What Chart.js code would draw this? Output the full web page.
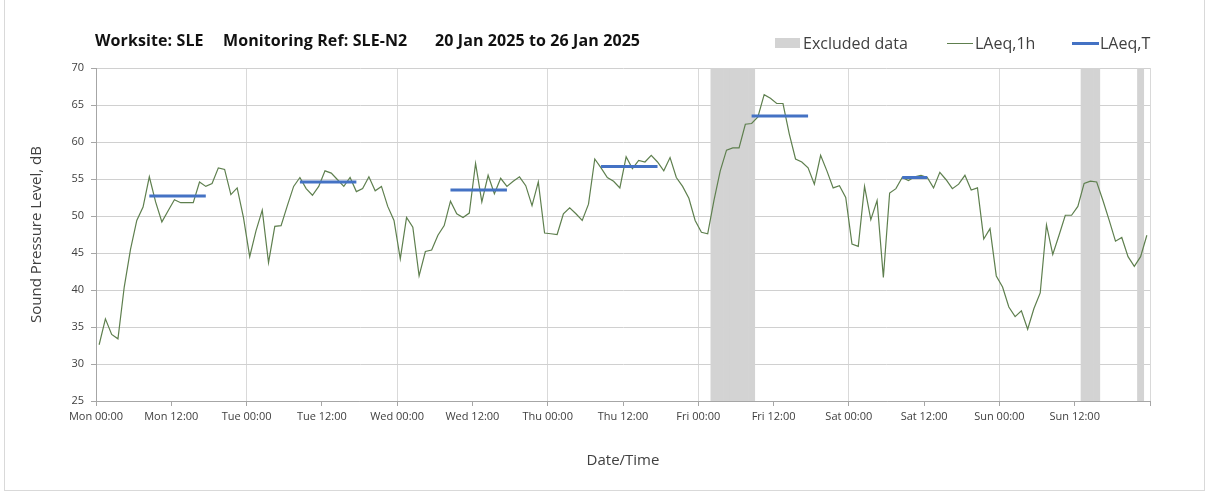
<!DOCTYPE html>
<html lang="en">
<head>
<meta charset="UTF-8">
<title>Worksite SLE - SLE-N2 noise monitoring</title>
<script src="https://cdn.jsdelivr.net/npm/chart.js"></script>
<style>
    body { margin: 0; background: #fff; font-family: "Open Sans", Lato, sans-serif; }
    #wrap { position: relative; width: 1208px; height: 494px; overflow: hidden; }
    #frame { position: absolute; left: 4px; top: -1px; width: 1199px; height: 490px; border: 1px solid #d9d9d9; }
    #chart { position: absolute; left: 0; top: 0; }
    .ttl { position: absolute; top: 29px; font-size: 16px; font-weight: bold; color: #111; white-space: nowrap; letter-spacing: 0.1px; }
    .leg { position: absolute; top: 32px; font-size: 16px; color: #404040; white-space: nowrap; }
    .swatch { position: absolute; }
</style>
</head>
<body>
<div id="wrap">
    <div id="frame"></div>
    <canvas id="chart" width="1208" height="494"></canvas>

    <!-- title, split in three parts like the original -->
    <div class="ttl" style="left:95px">Worksite: SLE</div>
    <div class="ttl" style="left:223px">Monitoring Ref: SLE-N2</div>
    <div class="ttl" style="left:435px">20 Jan 2025 to 26 Jan 2025</div>

    <!-- legend -->
    <div class="swatch" style="left:775px;top:38px;width:25px;height:10px;background:#d3d3d3"></div>
    <div class="leg" style="left:803px">Excluded data</div>
    <div class="swatch" style="left:947px;top:43px;width:26px;height:1px;background:#5e7f4e"></div>
    <div class="leg" style="left:975px">LAeq,1h</div>
    <div class="swatch" style="left:1072px;top:42px;width:27px;height:3px;background:#4472c4"></div>
    <div class="leg" style="left:1100px">LAeq,T</div>
</div>

<script>
// hourly LAeq,1h, Mon 20 Jan 00:00 .. Sun 26 Jan 23:00
const laeq1h = [
    32.6, 36.1, 34.0, 33.4, 40.4, 45.5, 49.4, 51.2, 55.3, 51.9, 49.2, 50.7,
    52.2, 51.8, 51.8, 51.8, 54.6, 54.0, 54.4, 56.5, 56.3, 52.9, 53.8, 49.8,
    44.5, 48.0, 50.8, 43.7, 48.6, 48.7, 51.4, 54.0, 55.2, 53.7, 52.8, 54.0,
    56.1, 55.8, 54.9, 54.0, 55.2, 53.3, 53.7, 55.3, 53.4, 54.0, 51.3, 49.4,
    44.2, 49.8, 48.5, 41.9, 45.2, 45.4, 47.4, 48.7, 52.0, 50.3, 49.8, 50.4,
    57.1, 51.9, 55.5, 53.0, 55.1, 54.0, 54.7, 55.3, 54.1, 51.4, 54.6, 47.7,
    47.6, 47.5, 50.3, 51.1, 50.3, 49.4, 51.6, 57.7, 56.5, 55.2, 54.7, 53.8,
    58.0, 56.4, 57.5, 57.3, 58.2, 57.3, 56.1, 57.9, 55.2, 54.0, 52.4, 49.4,
    47.8, 47.6, 52.1, 56.1, 58.9, 59.2, 59.2, 62.4, 62.5, 63.4, 66.4, 65.9,
    65.2, 65.2, 61.1, 57.7, 57.3, 56.5, 54.3, 58.2, 56.1, 53.8, 54.1, 52.5,
    46.2, 45.9, 54.0, 49.5, 52.1, 41.7, 53.1, 53.7, 55.2, 54.8, 55.3, 55.5,
    55.2, 53.8, 55.9, 54.9, 53.7, 54.3, 55.5, 53.5, 53.8, 46.9, 48.3, 41.9,
    40.4, 37.7, 36.4, 37.2, 34.7, 37.5, 39.6, 48.8, 44.8, 47.4, 50.1, 50.1,
    51.3, 54.4, 54.7, 54.6, 52.1, 49.4, 46.6, 47.1, 44.5, 43.2, 44.5, 47.4
];

// LAeq,T periods (hour index from Mon 00:00)
const periodStart = [8, 32, 56, 80, 104, 128];
const periodEnd = [17, 41, 65, 89, 113, 132];
const periodLevel = [52.7, 54.6, 53.5, 56.7, 63.5, 55.2];

// excluded hours (hour index from Mon 00:00)
const excludedHours = [98, 99, 100, 101, 102, 103, 104, 157, 158, 159, 166];

const dayNames = ['Mon', 'Tue', 'Wed', 'Thu', 'Fri', 'Sat', 'Sun'];
const yTicks = [25, 30, 35, 40, 45, 50, 55, 60, 65, 70];

// each hourly value sits in the middle of its hour
const linePoints = laeq1h.map((v, i) => ({ x: i + 0.5, y: v }));

const periodPoints = [];
periodStart.forEach((s, i) => {
    periodPoints.push({ x: s + 0.5, y: periodLevel[i] });
    periodPoints.push({ x: periodEnd[i] + 0.5, y: periodLevel[i] });
    periodPoints.push({ x: periodEnd[i] + 1, y: null });
});

const excludedPoints = excludedHours.map(h => ({ x: h + 0.5, y: yTicks[yTicks.length - 1] }));

const txt = '#404040';
const font = 'Open Sans';

new Chart(document.getElementById('chart'), {
    type: 'line',
    data: {
        datasets: [
            {
                type: 'bar',
                label: 'Excluded data',
                data: excludedPoints,
                backgroundColor: '#d3d3d3',
                borderWidth: 0,
                barPercentage: 1,
                categoryPercentage: 1,
                order: 3
            },
            {
                label: 'LAeq,1h',
                data: linePoints,
                borderColor: '#5e7f4e',
                borderWidth: 1.2,
                pointRadius: 0,
                tension: 0,
                order: 2
            },
            {
                label: 'LAeq,T',
                data: periodPoints,
                borderColor: '#4472c4',
                borderWidth: 3,
                pointRadius: 0,
                spanGaps: false,
                order: 1
            }
        ]
    },
    options: {
        responsive: false,
        animation: false,
        devicePixelRatio: 1,
        layout: { padding: { left: 0, top: 68, right: 58, bottom: 0 } },
        plugins: {
            legend: { display: false },
            tooltip: { enabled: false }
        },
        scales: {
            x: {
                type: 'linear',
                min: 0,
                max: 168,
                offset: false,
                afterFit: (scale) => { scale.height = 93; },
                grid: {
                    offset: false,
                    color: (ctx) => (ctx.tick && ctx.tick.value % 24 === 0) ? '#d9d9d9' : 'rgba(0,0,0,0)',
                    tickColor: '#a6a6a6',
                    tickLength: 5
                },
                border: { color: '#a6a6a6' },
                ticks: {
                    stepSize: 12,
                    autoSkip: false,
                    maxRotation: 0,
                    padding: 4,
                    color: txt,
                    font: { family: font, size: 11 },
                    callback: (v) => v >= 168 ? '' : dayNames[Math.floor(v / 24)] + (v % 24 === 0 ? ' 00:00' : ' 12:00')
                },
                title: {
                    display: true,
                    text: 'Date/Time',
                    color: txt,
                    font: { family: font, size: 15 },
                    padding: { top: 0, bottom: 24 }
                }
            },
            y: {
                min: 25,
                max: 70,
                afterFit: (scale) => { scale.width = 96; },
                afterBuildTicks: (scale) => { scale.ticks = yTicks.map(v => ({ value: v })); },
                grid: { color: '#d0d0d0', tickColor: '#a6a6a6', tickLength: 5 },
                border: { color: '#a6a6a6' },
                ticks: {
                    padding: 7,
                    color: txt,
                    font: { family: font, size: 11 }
                },
                title: {
                    display: true,
                    text: 'Sound Pressure Level, dB',
                    color: txt,
                    font: { family: font, size: 15 },
                    padding: { top: 28, bottom: 0 }
                }
            }
        }
    }
});
</script>
</body>
</html>
